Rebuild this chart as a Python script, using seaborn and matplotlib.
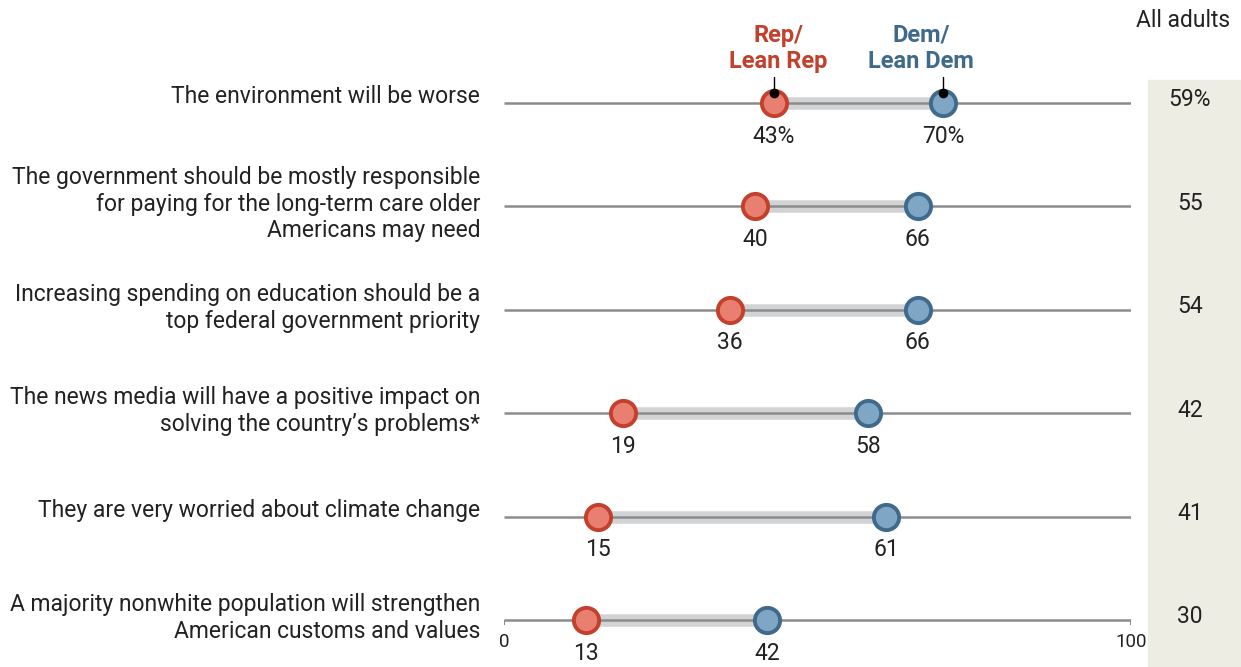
import matplotlib.pyplot as plt
import matplotlib.patches as mpatches
import seaborn as sns
import pandas as pd

# Values
statements = ['The environment will be worse',
              'The government should be mostly responsible\nfor paying for the long-term care older\nAmericans may need',
              'Increasing spending on education should be a\ntop federal government priority',
              'The news media will have a positive impact on\nsolving the country\u2019s problems*',
              'They are very worried about climate change',
              'A majority nonwhite population will strengthen\nAmerican customs and values']
rep = [43, 40, 36, 19, 15, 13]
dem = [70, 66, 66, 58, 61, 42]
all_adults = [59, 55, 54, 42, 41, 30]

red_edge = '#c3402d'
red_fill = '#e97f70'
blue_edge = '#3f6a8c'
blue_fill = '#7fa6c4'

sns.set_style('white')
plt.rcParams['font.family'] = ['Roboto', 'DejaVu Sans']

fig = plt.figure(figsize=(12.41, 6.67), dpi=100)
# axes spans 0..100 horizontally, full height; rows in index units
ax = fig.add_axes([504 / 1241, 0, 627 / 1241, 1])

rows = list(range(len(statements)))

df = pd.DataFrame({'row': rows * 2,
                   'value': rep + dem,
                   'party': ['Rep'] * len(rep) + ['Dem'] * len(dem)})

# base lines and gap bars
ax.hlines(rows, 0, 100, color='#8c8c8c', lw=1.8, zorder=1)
ax.hlines(rows, rep, dem, color='#d2d3d4', lw=9, zorder=2)
ax.hlines(rows, rep, dem, color='#8c8c8c', lw=1.8, zorder=2.5)
last = rows[-1]
ax.vlines([0, 100], last, last + 0.05, color='#8c8c8c', lw=1.5)

sns.scatterplot(data=df[df.party == 'Rep'], x='value', y='row', ax=ax,
                s=330, color=red_fill, edgecolor=red_edge, linewidth=2.8,
                zorder=3, legend=False)
sns.scatterplot(data=df[df.party == 'Dem'], x='value', y='row', ax=ax,
                s=330, color=blue_fill, edgecolor=blue_edge, linewidth=2.8,
                zorder=3, legend=False)
ax.set_xlim(0, 100)
ax.set_ylim(5.455, -0.996)
ax.axis('off')

fs = 16.5
# value labels under dots
for i in rows:
    suffix = '%' if i == 0 else ''
    ax.text(rep[i], i + 0.32, f'{rep[i]}{suffix}', ha='center', va='center',
            fontsize=fs, color='#222222')
    ax.text(dem[i], i + 0.32, f'{dem[i]}{suffix}', ha='center', va='center',
            fontsize=fs, color='#222222')
    off = -0.06 if '\n' not in statements[i] else -0.02
    ax.text(-3.8, i + off, statements[i], ha='right', va='center',
            fontsize=fs, color='#222222', linespacing=1.2, clip_on=False)
    ax.text(109.4, i - 0.03, f'{all_adults[i]}{suffix}', ha='center',
            va='center', fontsize=fs, color='#222222', clip_on=False)

# all adults panel
ax.add_patch(mpatches.Rectangle((102.7, -0.22), 15, 6, color='#eeede4',
                                zorder=0, clip_on=False))
ax.text(115.8, -0.8, 'All adults', ha='right', va='center', fontsize=fs,
        color='#222222', clip_on=False)

# axis end labels
ax.text(0, last + 0.21, '0', ha='center', va='center', fontsize=13.5,
        color='#222222')
ax.text(100, last + 0.21, '100', ha='center', va='center', fontsize=13.5,
        color='#222222', clip_on=False)

# legend call-outs
ax.text(rep[0] + 0.8, -0.53, 'Rep/\nLean Rep', ha='center', va='center',
        fontsize=17, fontweight='bold', color=red_edge, linespacing=1.15)
ax.text(dem[0] - 3.5, -0.53, 'Dem/\nLean Dem', ha='center', va='center',
        fontsize=17, fontweight='bold', color=blue_edge, linespacing=1.15)
for v in [rep[0], dem[0]]:
    ax.plot([v, v], [-0.1, -0.25], color='black', lw=1, zorder=4)
    ax.plot([v], [-0.1], 'o', color='black', ms=6, zorder=4)

fig.savefig('out.png', dpi=100)
